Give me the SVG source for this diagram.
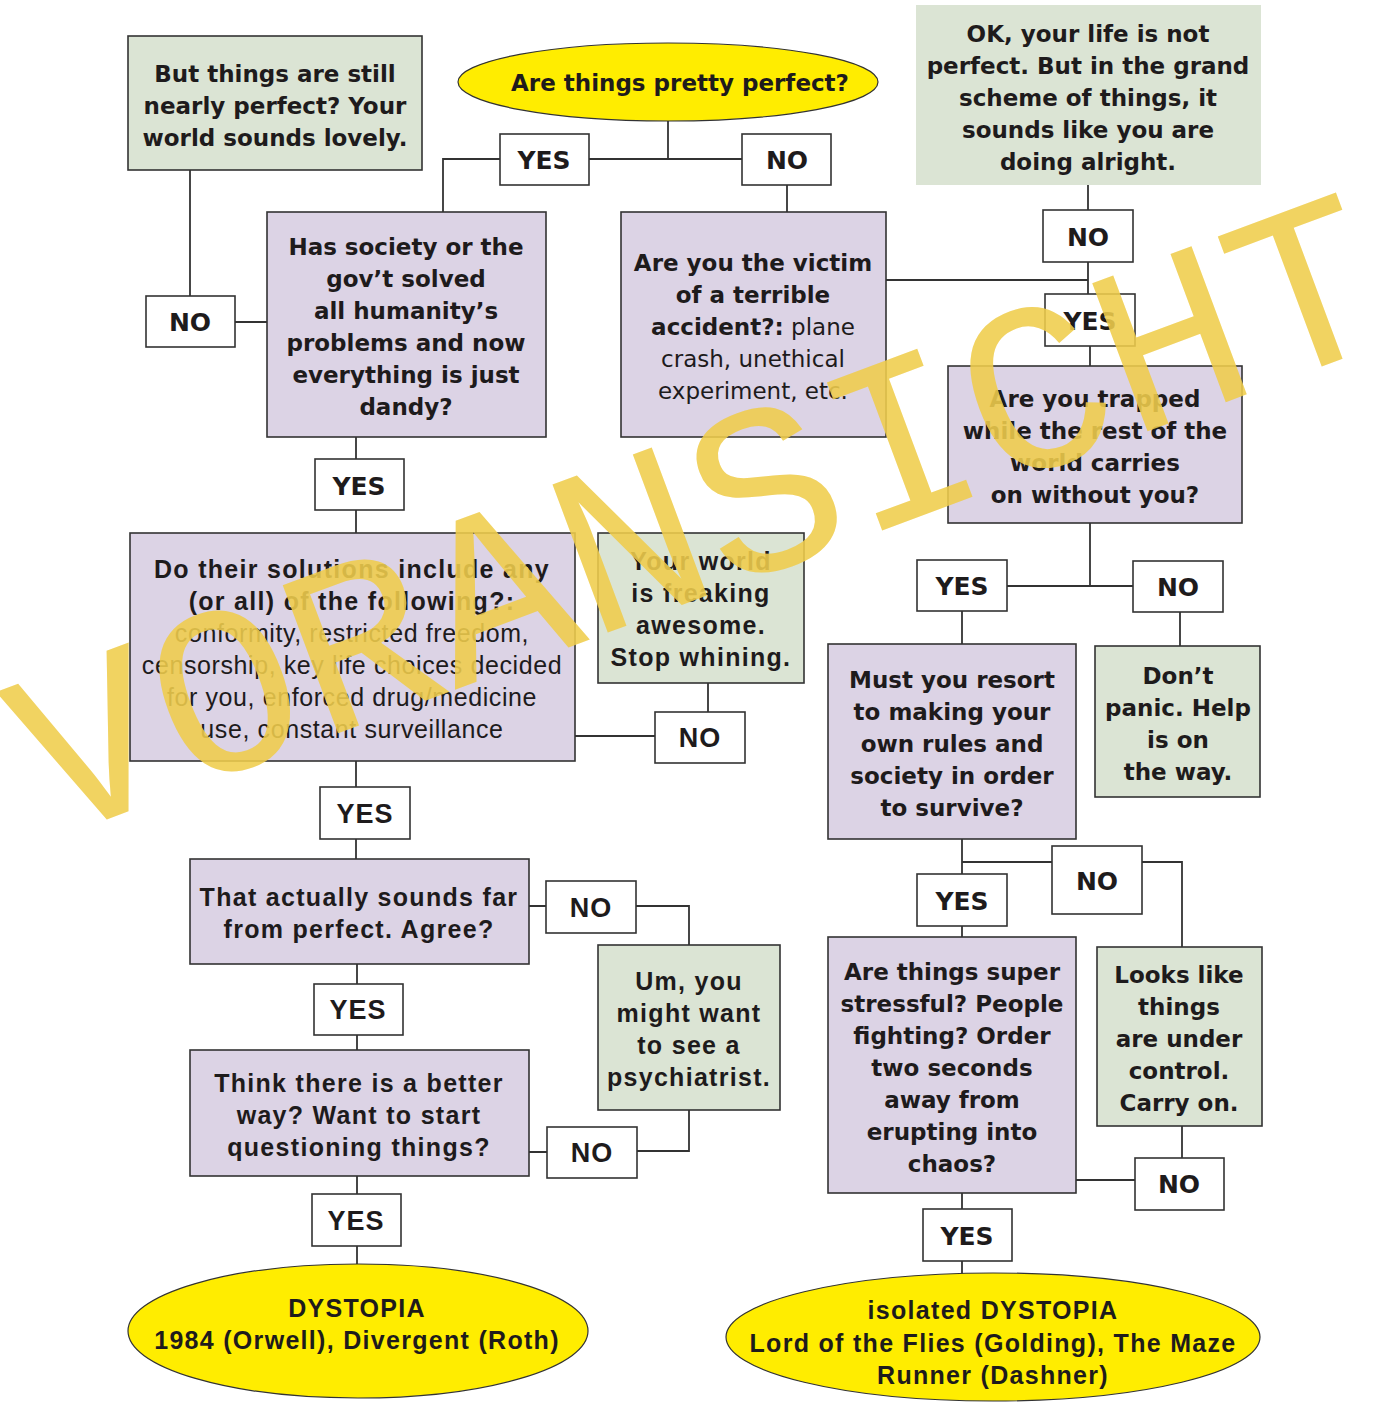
<svg xmlns="http://www.w3.org/2000/svg" width="1373" height="1403" viewBox="0 0 1373 1403">
<style>
.q{fill:#dcd3e5;stroke:#333;stroke-width:1.6}
.g{fill:#dbe4d4;stroke:#333;stroke-width:1.6}
.gn{fill:#dbe4d4}
.l{fill:#fff;stroke:#333;stroke-width:1.6}
.e{fill:#ffed00;stroke:#333;stroke-width:1.2}
.c{fill:none;stroke:#333;stroke-width:1.8}
text{fill:#1e1b1c;text-anchor:middle}
.x{font-family:"DejaVu Sans",sans-serif;font-weight:bold;font-size:23px}
.xr{font-family:"DejaVu Sans",sans-serif;font-weight:normal;font-size:23px}
.k{font-family:"Liberation Sans",Arial,sans-serif;font-weight:bold;font-size:25px;letter-spacing:1.3px}
.kr{font-family:"Liberation Sans",Arial,sans-serif;font-weight:normal;font-size:25px;letter-spacing:0.6px}
.lx{font-family:"DejaVu Sans",sans-serif;font-weight:bold;font-size:25px}
.lk{font-family:"Liberation Sans",Arial,sans-serif;font-weight:bold;font-size:27px;letter-spacing:1px}
.wm{font-family:"Liberation Mono","Courier New",monospace;font-size:240px;fill:#f0cd4c;opacity:0.88}
</style>

<g id="connectors">
<path class="c" d="M668,121V159M500,159H443V212M589,159H742M787,185V212"/>
<path class="c" d="M190,170V296M235,322H267"/>
<path class="c" d="M356,437V459M356,510V533"/>
<path class="c" d="M886,280H1088M1088,185V210M1088,262V294M1090,346V366"/>
<path class="c" d="M1090,523V586M1007,586H1133M962,611V644M1180,612V646"/>
<path class="c" d="M962,839V874M962,862H1052M1142,862H1182V947M962,926V937"/>
<path class="c" d="M1182,1126V1158M1135,1180H1076M962,1193V1209M962,1261V1274"/>
<path class="c" d="M708,683V712M655,736H575"/>
<path class="c" d="M356,761V787M356,839V859"/>
<path class="c" d="M529,906H546M636,906H689V945"/>
<path class="c" d="M357,964V984M357,1035V1050"/>
<path class="c" d="M689,1110V1151H637M547,1152H529"/>
<path class="c" d="M357,1176V1194M357,1246V1265"/>
</g>

<g id="n-start">
<ellipse class="e" cx="668" cy="82" rx="210" ry="39"/>
<text class="x" x="680" y="91">Are things pretty perfect?</text>
</g>

<g id="n-yes1"><rect class="l" x="500" y="134" width="89" height="51"/><text class="lx" x="544" y="169">YES</text></g>
<g id="n-no1"><rect class="l" x="742" y="134" width="89" height="51"/><text class="lx" x="787" y="169">NO</text></g>

<g id="n-nearly">
<rect class="g" x="128" y="36" width="294" height="134"/>
<text class="x"><tspan x="275" y="82">But things are still</tspan><tspan x="275" y="114">nearly perfect? Your</tspan><tspan x="275" y="146">world sounds lovely.</tspan></text>
</g>

<g id="n-no2"><rect class="l" x="146" y="296" width="89" height="51"/><text class="lx" x="190" y="331">NO</text></g>

<g id="n-society">
<rect class="q" x="267" y="212" width="279" height="225"/>
<text class="x"><tspan x="406" y="255">Has society or the</tspan><tspan x="406" y="287">gov’t solved</tspan><tspan x="406" y="319">all humanity’s</tspan><tspan x="406" y="351">problems and now</tspan><tspan x="406" y="383">everything is just</tspan><tspan x="406" y="415">dandy?</tspan></text>
</g>

<g id="n-victim">
<rect class="q" x="621" y="212" width="265" height="225"/>
<text class="x"><tspan x="753" y="271">Are you the victim</tspan><tspan x="753" y="303">of a terrible</tspan></text>
<text class="x" x="753" y="335">accident?:<tspan class="xr"> plane</tspan></text>
<text class="xr"><tspan x="753" y="367">crash, unethical</tspan><tspan x="753" y="399">experiment, etc.</tspan></text>
</g>

<g id="n-alright">
<rect class="gn" x="916" y="5" width="345" height="180"/>
<text class="x"><tspan x="1088" y="42">OK, your life is not</tspan><tspan x="1088" y="74">perfect. But in the grand</tspan><tspan x="1088" y="106">scheme of things, it</tspan><tspan x="1088" y="138">sounds like you are</tspan><tspan x="1088" y="170">doing alright.</tspan></text>
</g>

<g id="n-no3"><rect class="l" x="1043" y="210" width="90" height="52"/><text class="lx" x="1088" y="246">NO</text></g>
<g id="n-yes3"><rect class="l" x="1045" y="294" width="90" height="52"/><text class="lx" x="1090" y="330">YES</text></g>

<g id="n-trapped">
<rect class="q" x="948" y="366" width="294" height="157"/>
<text class="x"><tspan x="1095" y="407">Are you trapped</tspan><tspan x="1095" y="439">while the rest of the</tspan><tspan x="1095" y="471">world carries</tspan><tspan x="1095" y="503">on without you?</tspan></text>
</g>

<g id="n-yes4"><rect class="l" x="917" y="560" width="90" height="51"/><text class="lx" x="962" y="595">YES</text></g>
<g id="n-no4"><rect class="l" x="1133" y="561" width="90" height="51"/><text class="lx" x="1178" y="596">NO</text></g>

<g id="n-rules">
<rect class="q" x="828" y="644" width="248" height="195"/>
<text class="x"><tspan x="952" y="688">Must you resort</tspan><tspan x="952" y="720">to making your</tspan><tspan x="952" y="752">own rules and</tspan><tspan x="952" y="784">society in order</tspan><tspan x="952" y="816">to survive?</tspan></text>
</g>

<g id="n-panic">
<rect class="g" x="1095" y="646" width="165" height="151"/>
<text class="x"><tspan x="1178" y="684">Don’t</tspan><tspan x="1178" y="716">panic. Help</tspan><tspan x="1178" y="748">is on</tspan><tspan x="1178" y="780">the way.</tspan></text>
</g>

<g id="n-no5"><rect class="l" x="1052" y="846" width="90" height="68"/><text class="lx" x="1097" y="890">NO</text></g>
<g id="n-yes5"><rect class="l" x="917" y="874" width="90" height="52"/><text class="lx" x="962" y="910">YES</text></g>

<g id="n-stressful">
<rect class="q" x="828" y="937" width="248" height="256"/>
<text class="x"><tspan x="952" y="980">Are things super</tspan><tspan x="952" y="1012">stressful? People</tspan><tspan x="952" y="1044">fighting? Order</tspan><tspan x="952" y="1076">two seconds</tspan><tspan x="952" y="1108">away from</tspan><tspan x="952" y="1140">erupting into</tspan><tspan x="952" y="1172">chaos?</tspan></text>
</g>

<g id="n-control">
<rect class="g" x="1097" y="947" width="165" height="179"/>
<text class="x"><tspan x="1179" y="983">Looks like</tspan><tspan x="1179" y="1015">things</tspan><tspan x="1179" y="1047">are under</tspan><tspan x="1179" y="1079">control.</tspan><tspan x="1179" y="1111">Carry on.</tspan></text>
</g>

<g id="n-no6"><rect class="l" x="1135" y="1158" width="89" height="52"/><text class="lx" x="1179" y="1193">NO</text></g>
<g id="n-yes6"><rect class="l" x="923" y="1209" width="89" height="52"/><text class="lx" x="967" y="1245">YES</text></g>

<g id="n-isolated">
<ellipse class="e" cx="993" cy="1337" rx="267" ry="64"/>
<text class="k"><tspan x="993" y="1319">isolated DYSTOPIA</tspan><tspan x="993" y="1352">Lord of the Flies (Golding), The Maze</tspan><tspan x="993" y="1384">Runner (Dashner)</tspan></text>
</g>

<g id="n-yes2"><rect class="l" x="315" y="459" width="89" height="51"/><text class="lx" x="359" y="495">YES</text></g>

<g id="n-solutions">
<rect class="q" x="130" y="533" width="445" height="228"/>
<text class="k"><tspan x="352" y="578">Do their solutions include any</tspan><tspan x="352" y="610">(or all) of the following?:</tspan></text>
<text class="kr"><tspan x="352" y="642">conformity, restricted freedom,</tspan><tspan x="352" y="674">censorship, key life choices decided</tspan><tspan x="352" y="706">for you, enforced drug/medicine</tspan><tspan x="352" y="738">use, constant surveillance</tspan></text>
</g>

<g id="n-awesome">
<rect class="g" x="598" y="533" width="206" height="150"/>
<text class="k"><tspan x="701" y="570">Your world</tspan><tspan x="701" y="602">is freaking</tspan><tspan x="701" y="634">awesome.</tspan><tspan x="701" y="666">Stop whining.</tspan></text>
</g>

<g id="n-no7"><rect class="l" x="655" y="712" width="90" height="51"/><text class="lk" x="700" y="747">NO</text></g>
<g id="n-yes7"><rect class="l" x="320" y="787" width="90" height="52"/><text class="lk" x="365" y="823">YES</text></g>

<g id="n-far">
<rect class="q" x="190" y="859" width="339" height="105"/>
<text class="k"><tspan x="359" y="906">That actually sounds far</tspan><tspan x="359" y="938">from perfect. Agree?</tspan></text>
</g>

<g id="n-no8"><rect class="l" x="546" y="881" width="90" height="52"/><text class="lk" x="591" y="917">NO</text></g>

<g id="n-psych">
<rect class="g" x="598" y="945" width="182" height="165"/>
<text class="k"><tspan x="689" y="990">Um, you</tspan><tspan x="689" y="1022">might want</tspan><tspan x="689" y="1054">to see a</tspan><tspan x="689" y="1086">psychiatrist.</tspan></text>
</g>

<g id="n-yes8"><rect class="l" x="314" y="984" width="89" height="51"/><text class="lk" x="358" y="1019">YES</text></g>

<g id="n-better">
<rect class="q" x="190" y="1050" width="339" height="126"/>
<text class="k"><tspan x="359" y="1092">Think there is a better</tspan><tspan x="359" y="1124">way? Want to start</tspan><tspan x="359" y="1156">questioning things?</tspan></text>
</g>

<g id="n-no9"><rect class="l" x="547" y="1127" width="90" height="51"/><text class="lk" x="592" y="1162">NO</text></g>
<g id="n-yes9"><rect class="l" x="312" y="1194" width="89" height="52"/><text class="lk" x="356" y="1230">YES</text></g>

<g id="n-dystopia">
<ellipse class="e" cx="358" cy="1331" rx="230" ry="67"/>
<text class="k"><tspan x="357" y="1317">DYSTOPIA</tspan><tspan x="357" y="1349">1984 (Orwell), Divergent (Roth)</tspan></text>
</g>

<g id="watermark">
<text class="wm" transform="translate(725,589) rotate(-20.45)" x="0" y="0">VORANSICHT</text>
</g>
</svg>
